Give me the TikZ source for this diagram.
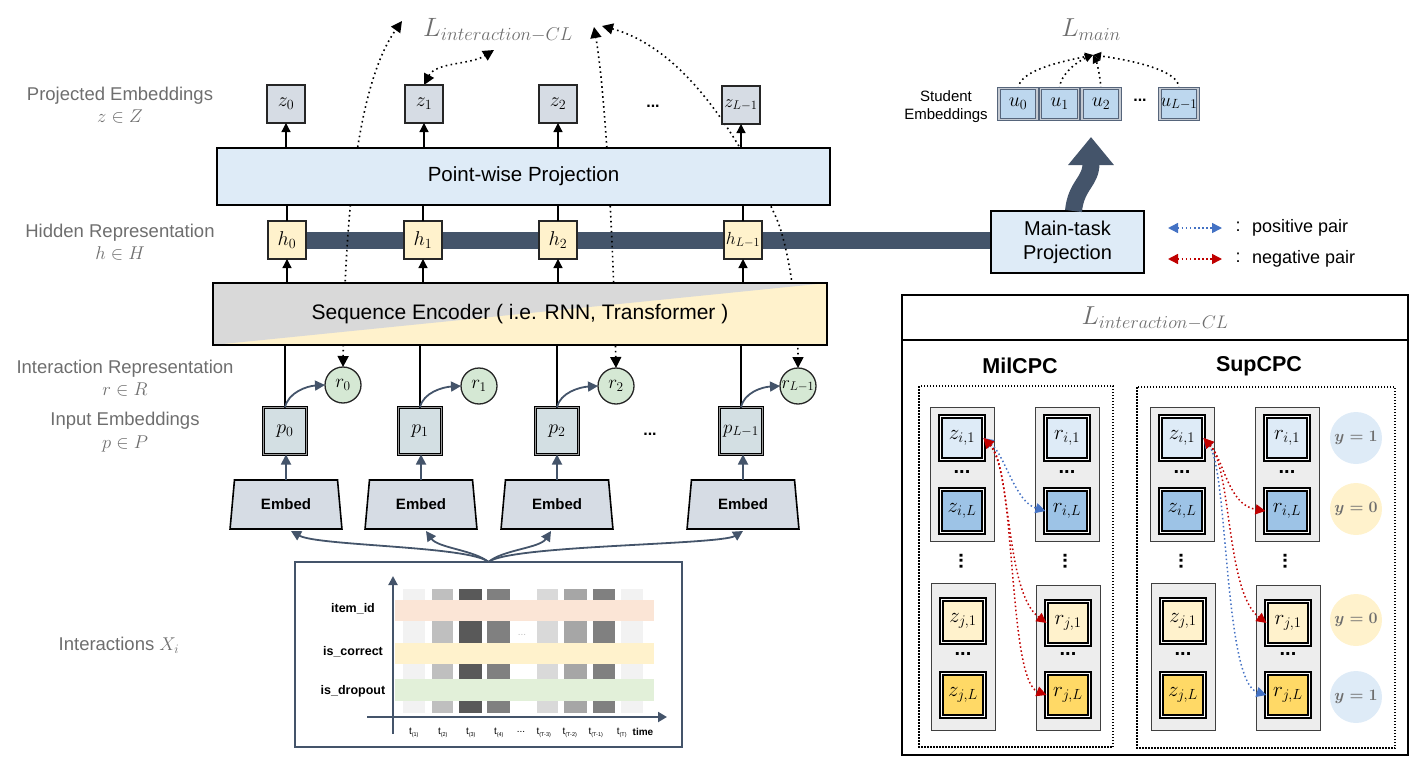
\documentclass[tikz,border=0pt]{standalone}
\usepackage{fix-cm}
\usepackage{amsmath,amssymb}
\usepackage[no-math]{fontspec}
\setmainfont{Liberation Sans}
\usetikzlibrary{arrows.meta,shapes.geometric,calc}
\pgfdeclarelayer{bg}
\pgfsetlayers{bg,main}
\definecolor{navy}{HTML}{44546A}
\definecolor{txtgray}{HTML}{6E6E6E}
\definecolor{zfill}{HTML}{D6DCE4}
\definecolor{lblue}{HTML}{DEEBF7}
\definecolor{mblue}{HTML}{9DC3E6}
\definecolor{lyel}{HTML}{FFF2CC}
\definecolor{myel}{HTML}{FFD966}
\definecolor{lgreen}{HTML}{D5E8D4}
\definecolor{pfill}{HTML}{D3DFE3}
\definecolor{encgray}{HTML}{D9D9D9}
\definecolor{ufill}{HTML}{BDD7EE}
\definecolor{ubord}{HTML}{56657B}
\definecolor{posblue}{HTML}{4472C4}
\definecolor{negred}{HTML}{C00000}
\definecolor{peach}{HTML}{FBE5D6}
\definecolor{pgreen}{HTML}{E2F0D9}
\definecolor{colbox}{HTML}{EDEDED}
\newcommand{\fsz}[1]{\fontsize{#1}{\fpeval{1.2*#1}}\selectfont}
\tikzset{
  every node/.style={inner sep=0pt, outer sep=0pt},
  lbl/.style={text=txtgray, font=\fsz{18.5}, align=center},
  zbox/.style={draw=black!85, line width=1.5pt, fill=zfill, minimum width=38pt, minimum height=38pt, font=\fsz{20}},
  hbox/.style={zbox, fill=lyel},
  pbox/.style={draw=black, line width=1pt, double=black!40, double distance=1.2pt, fill=pfill, minimum width=43pt, minimum height=47pt, font=\fsz{20}},
  rcirc/.style={circle, draw=black!85, line width=1.3pt, fill=lgreen, minimum size=36pt, font=\fsz{19}},
  embed/.style={trapezium, trapezium angle=79, trapezium stretches=true, minimum width=112pt, minimum height=49pt, draw=black, line width=1.6pt, fill=zfill, font=\bfseries\fsz{15}},
  ubox/.style={draw=ubord, line width=1pt, double=ubord!35, double distance=1.4pt, fill=ufill, minimum width=38pt, minimum height=31pt, font=\fsz{20}},
  sqbox/.style={draw=black, line width=1.7pt, double=white, double distance=1pt, minimum width=43pt, minimum height=43pt, font=\fsz{21}},
  colrect/.style={draw=black!75, line width=1pt, fill=colbox},
  ycirc/.style={circle, minimum size=52pt, text=txtgray, font=\fsz{16}\boldmath},
  blk/.style={-{Triangle[length=9pt,width=9pt]}, line width=1.3pt, black},
  nvarr/.style={-{Triangle[length=10pt,width=10pt]}, line width=1.8pt, navy},
  dotl/.style={line width=1.6pt, dash pattern=on 1.6pt off 3.4pt, black},
  dhead/.style={{Triangle[length=11pt,width=11pt]}-{Triangle[length=11pt,width=11pt]}},
  posarr/.style={posblue, line width=1.5pt, dash pattern=on 1.5pt off 2.6pt, {Triangle[length=10pt,width=10pt]}-{Triangle[length=10pt,width=10pt]}},
  negarr/.style={negred, line width=1.5pt, dash pattern=on 1.5pt off 2.6pt, {Triangle[length=10pt,width=10pt]}-{Triangle[length=10pt,width=10pt]}},
  bigbox/.style={draw=black, line width=1.6pt, font=\fsz{20.5}},
}
\begin{document}
\begin{tikzpicture}[x=1pt,y=-1pt]
\useasboundingbox (0,0) rectangle (1414,760);

% ---------- left labels ----------
\node[lbl] (lab1) at (120,105) {Projected Embeddings\\$z\in Z$};
\node[lbl] (lab2) at (120,242) {Hidden Representation\\$h\in H$};
\node[lbl] (lab3) at (125,378) {Interaction Representation\\$r\in R$};
\node[lbl] (lab4) at (125,432) {Input Embeddings\\$p\in P$};
\node[lbl] (lab5) at (119,645) {Interactions $X_i$};

% ---------- top loss texts ----------
\node[text=txtgray, font=\fsz{26.5}] (lint) at (498,30) {$L_{interaction-CL}$};
\node[text=txtgray, font=\fsz{26}] (lmain) at (1091,30) {$L_{main}$};
\coordinate (tA) at (402,21);
\coordinate (tB) at (494,50);
\coordinate (tC) at (594,27);
\coordinate (tD) at (602,26);
\coordinate (lm) at (1093,55);

% ---------- big boxes ----------
\node[bigbox, fill=lblue, minimum width=613pt, minimum height=57pt] (proj) at (523.5,176.5) {Point-wise Projection};
\fill[lyel] (213,283) rectangle (827,345);
\fill[encgray] (213,283) -- (827,283) -- (213,345) -- cycle;
\node[bigbox, minimum width=614pt, minimum height=62pt, font=\fsz{21}] (enc) at (520,314) {Sequence Encoder ( i.e. RNN, Transformer )};

% ---------- z row ----------
\node[zbox] (z0) at (286,104) {$z_0$};
\node[zbox] (z1) at (424,104) {$z_1$};
\node[zbox] (z2) at (558,104) {$z_2$};
\node[zbox, font=\fsz{18}] (zL) at (741,105) {$z_{L-1}$};
\node[font=\bfseries\fsz{16}] (zdots) at (653,106) {...};

% ---------- h row ----------
\node[hbox] (h0) at (287,240) {$h_0$};
\node[hbox] (h1) at (423,240) {$h_1$};
\node[hbox] (h2) at (558,240) {$h_2$};
\node[hbox, font=\fsz{17.5}] (hL) at (743,240) {$h_{L-1}$};

\foreach \n in {z0,z1,z2,zL}{\draw[blk] (\n.south |- proj.north) -- (\n.south);}
\foreach \n in {h0,h1,h2,hL}{
  \draw[line width=1.3pt] (\n.north) -- (\n.north |- proj.south);
  \draw[blk] (\n.south |- enc.north) -- (\n.south);}

% ---------- p row and r circles ----------
\node[pbox] (p0) at (285,431) {$p_0$};
\node[pbox] (p1) at (420,431) {$p_1$};
\node[pbox] (p2) at (557,431) {$p_2$};
\node[pbox, font=\fsz{19}] (pL) at (741,431) {$p_{L-1}$};
\node[font=\bfseries\fsz{16}] (pdots) at (650,434) {...};

\node[rcirc] (r0) at (343,385) {$r_0$};
\node[rcirc] (r1) at (479,386) {$r_1$};
\node[rcirc] (r2) at (616,386) {$r_2$};
\node[rcirc, font=\fsz{18}] (rL) at (798,386) {$r_{L-1}$};

\foreach \p/\r in {p0/r0,p1/r1,p2/r2,pL/rL}{
  \draw[line width=1.3pt] (\p.north) -- (\p.north |- enc.south);
  \draw[nvarr] (\p.north) .. controls ($(\p.north)+(3,-15)$) and ($(\r.west)+(-18,1)$) .. (\r.west);}

% ---------- Embed ----------
\node[embed] (e0) at (286,504.5) {Embed};
\node[embed] (e1) at (421,504.5) {Embed};
\node[embed] (e2) at (557,504.5) {Embed};
\node[embed] (e3) at (743,504.5) {Embed};
\foreach \e/\p in {e0/p0,e1/p1,e2/p2,e3/pL}{\draw[nvarr] (\e.north) -- (\e.north |- \p.south);}

% ---------- Interactions box ----------
\node[draw=navy, line width=2pt, minimum width=387pt, minimum height=185pt] (ibox) at (488.5,654.5) {};
\foreach \a/\b/\g in {403/425/5,432/453/25,459/482/65,487/510/50,537/558/15,564/587/35,593/615/50,621/643/5}{
  \fill[black!\g] (\a,589) rectangle (\b,713);}
\fill[peach] (395,600) rectangle (654,621);
\fill[lyel] (395,643) rectangle (654,664);
\fill[pgreen] (395,679) rectangle (654,701);
\node[text=black!25, font=\fsz{10}] at (522,635) {...};
\draw[navy, line width=2pt, -{Triangle[length=9pt,width=9pt]}] (393,734) -- (393,576);
\draw[navy, line width=2pt, -{Triangle[length=9pt,width=10pt]}] (367,717) -- (667,717);
\node[font=\bfseries\fsz{12.5}] at (353,609) {item\_id};
\node[font=\bfseries\fsz{12.5}] at (353,652) {is\_correct};
\node[font=\bfseries\fsz{12.5}] at (353,691) {is\_dropout};
\foreach \x/\s in {414/(1),443/(2),471/(3),499/(4),544/(T-3),570/(T-2),596/(T-1),622/(T)}{
  \node[font=\fsz{10}] at (\x,733) {t\textsubscript{\fsz{5.5}\s}};}
\node[font=\fsz{10}] at (521,732) {...};
\node[font=\bfseries\fsz{10}] at (643,732) {time};

\draw[nvarr] (ibox.north) .. controls (470,546) and (318,546) .. ($(e0.south)+(5,2)$);
\draw[nvarr] (ibox.north) .. controls (474,550) and (438,548) .. ($(e1.south)+(5,2)$);
\draw[nvarr] (ibox.north) .. controls (502,550) and (540,548) .. ($(e2.south)+(-6,2)$);
\draw[nvarr] (ibox.north) .. controls (510,545) and (720,545) .. ($(e3.south)+(0,2)$);

% ---------- Main-task projection and student embeddings ----------
\node[draw=black, line width=1.5pt, fill=lblue, minimum width=153pt, minimum height=62pt, align=center, font=\fsz{20}] (mtp) at (1067.5,242) {Main-task\\Projection};
\node[ubox] (u0) at (1018,104) {$u_0$};
\node[ubox] (u1) at (1059.5,104) {$u_1$};
\node[ubox] (u2) at (1101,104) {$u_2$};
\node[ubox, font=\fsz{19}] (uL) at (1179,104) {$u_{L-1}$};
\node[font=\bfseries\fsz{16}] (udots) at (1140,100) {...};
\node[align=center, font=\fsz{15}] (stud) at (946,107) {Student\\Embeddings};
\coordinate (bigtip) at (1091,137);
\draw[navy, line width=17pt, -{Triangle[length=28pt,width=44pt]}] ($(mtp.north)+(6,0)$) .. controls (1076,185) and (1091,182) .. (bigtip);

% ---------- legend ----------
\coordinate (lg1a) at (1168,228); \coordinate (lg1b) at (1222,228);
\coordinate (lg2a) at (1168,259); \coordinate (lg2b) at (1222,259);
\draw[posarr] (lg1a) -- (lg1b);
\draw[negarr] (lg2a) -- (lg2b);
\node[font=\fsz{18}] at (1238,227) {:};
\node[font=\fsz{18}] at (1238,258) {:};
\node[anchor=west, font=\fsz{18}] (legp) at (1252,228) {positive pair};
\node[anchor=west, font=\fsz{18}] (legn) at (1252,259) {negative pair};

% ---------- CPC panel ----------
\node[draw=black, line width=2.5pt, minimum width=506pt, minimum height=460pt] (cpc) at (1155,525) {};
\draw[line width=1.8pt] (902,340) -- (1408,340);
\node[text=txtgray, font=\fsz{26}] (lint2) at (1155,318) {$L_{interaction-CL}$};
\node[font=\bfseries\fsz{21.5}] (mil) at (1020,366) {MilCPC};
\node[font=\bfseries\fsz{21.5}] (sup) at (1259,366) {SupCPC};
\draw[line width=1.5pt, dash pattern=on 1.5pt off 1.5pt] (919,386) rectangle (1113,747);
\draw[line width=1.5pt, dash pattern=on 1.5pt off 1.5pt] (1137,387) rectangle (1395,748);

\foreach \dx/\pre in {0/m,220/s}{
  \begin{scope}[xshift=\dx]
  \draw[colrect] (930,407) rectangle (994,541);
  \draw[colrect] (1035,407) rectangle (1099,541);
  \draw[colrect] (931,583) rectangle (995,730);
  \draw[colrect] (1036,585) rectangle (1100,730);
  \node[sqbox, fill=lblue] (\pre z1) at (962,438) {$z_{i,1}$};
  \node[sqbox, fill=mblue] (\pre zL) at (962,511) {$z_{i,L}$};
  \node[sqbox, fill=lblue] (\pre r1) at (1067,438) {$r_{i,1}$};
  \node[sqbox, fill=mblue] (\pre rL) at (1067,511) {$r_{i,L}$};
  \node[sqbox, fill=lyel] (\pre zj1) at (963,621) {$z_{j,1}$};
  \node[sqbox, fill=myel] (\pre zjL) at (963,695) {$z_{j,L}$};
  \node[sqbox, fill=lyel] (\pre rj1) at (1068,623) {$r_{j,1}$};
  \node[sqbox, fill=myel] (\pre rjL) at (1068,695) {$r_{j,L}$};
  \node[font=\bfseries\fsz{20}] at (962,472) {...};
  \node[font=\bfseries\fsz{20}] at (1067,472) {...};
  \node[font=\bfseries\fsz{20}] at (963,654) {...};
  \node[font=\bfseries\fsz{20}] at (1068,654) {...};
  \node[rotate=90, font=\bfseries\fsz{20}] at (961,561) {...};
  \node[rotate=90, font=\bfseries\fsz{20}] at (1065,561) {...};
  \end{scope}}

\node[ycirc, fill=lblue] (y1) at (1356,438) {$y=1$};
\node[ycirc, fill=lyel] (y2) at (1356,509) {$y=0$};
\node[ycirc, fill=lyel] (y3) at (1356,620) {$y=0$};
\node[ycirc, fill=lblue] (y4) at (1356,697) {$y=1$};

% MilCPC pairs
\draw[posarr] (mz1.east) .. controls (1005,455) and (1015,502) .. (mrL.west);
\draw[negarr] (mz1.east) .. controls (1012,470) and (1005,592) .. (mrj1.west);
\draw[negarr] (mz1.east) .. controls (1016,470) and (1008,680) .. (mrjL.west);
% SupCPC pairs
\draw[posarr] (sz1.east) .. controls (1228,470) and (1224,682) .. (srjL.west);
\draw[negarr] (sz1.east) .. controls (1224,460) and (1228,505) .. (srL.west);
\draw[negarr] (sz1.east) .. controls (1232,470) and (1226,592) .. (srj1.west);

% ---------- background: dotted curves and bar ----------
\begin{pgfonlayer}{bg}
\draw[navy, line width=17pt] (h0.center) -- (h0.center -| mtp.west);
\draw[dotl, dhead] (r0.north) .. controls (345,200) and (360,80) .. (tA);
\draw[dotl, dhead] (z1.north) .. controls (436,62) and (470,65) .. (tB);
\draw[dotl, dhead] (r2.north) .. controls (613,230) and (605,90) .. (tC);
\draw[dotl, dhead] (tD) .. controls (690,50) and (745,150) .. (775,215) .. controls (790,247) and (798,320) .. (rL.north);
\draw[dotl, -{Triangle[length=8pt,width=8pt]}] (u0.north) .. controls (1020,70) and (1060,62) .. (lm);
\draw[dotl, -{Triangle[length=8pt,width=8pt]}] (u1.north) .. controls (1060,75) and (1076,62) .. (lm);
\draw[dotl, -{Triangle[length=8pt,width=8pt]}] (u2.north) .. controls (1100,75) and (1097,63) .. (lm);
\draw[dotl, -{Triangle[length=8pt,width=8pt]}] (uL.north) .. controls (1180,70) and (1130,60) .. (lm);
\end{pgfonlayer}
\end{tikzpicture}
\end{document}
